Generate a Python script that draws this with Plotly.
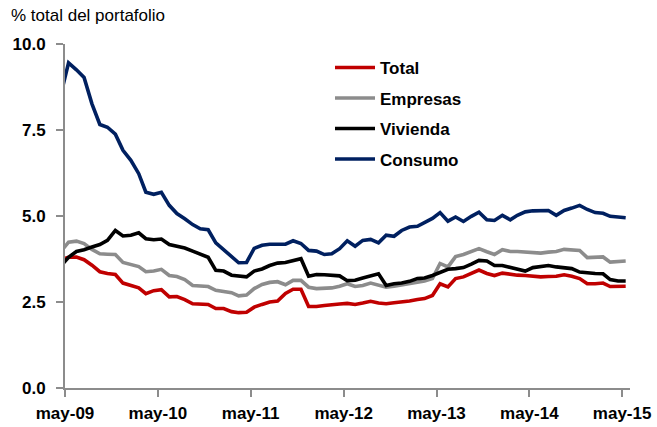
import pandas as pd
import plotly.graph_objects as go

# Monthly observations (mid-month), Apr-2009 .. May-2015
dates = pd.date_range("2009-04-01", periods=74, freq="MS") + pd.Timedelta(days=14)

total = [3.73, 3.80, 3.81, 3.73, 3.57, 3.38, 3.33, 3.30, 3.05, 2.97, 2.91,
         2.74, 2.83, 2.86, 2.65, 2.66, 2.57, 2.45, 2.43, 2.43, 2.31, 2.31,
         2.22, 2.19, 2.20, 2.35, 2.43, 2.50, 2.53, 2.75, 2.87, 2.87, 2.37,
         2.37, 2.40, 2.43, 2.44, 2.46, 2.43, 2.47, 2.52, 2.47, 2.45, 2.48,
         2.50, 2.53, 2.57, 2.60, 2.69, 3.03, 2.94, 3.18, 3.23, 3.34, 3.43,
         3.33, 3.27, 3.34, 3.30, 3.28, 3.27, 3.25, 3.23, 3.24, 3.25, 3.29,
         3.25, 3.18, 3.03, 3.03, 3.05, 2.95, 2.96, 2.96]

empresas = [3.97, 4.24, 4.27, 4.20, 4.03, 3.90, 3.89, 3.88, 3.65, 3.60, 3.53,
            3.38, 3.40, 3.45, 3.27, 3.24, 3.15, 2.98, 2.96, 2.95, 2.84, 2.80,
            2.77, 2.68, 2.70, 2.89, 3.01, 3.07, 3.09, 3.00, 3.13, 3.13, 2.93,
            2.89, 2.89, 2.91, 2.96, 3.03, 2.95, 2.98, 3.05, 2.98, 2.93, 2.96,
            3.00, 3.03, 3.07, 3.11, 3.18, 3.62, 3.52, 3.82, 3.88, 3.97, 4.05,
            3.96, 3.88, 4.02, 3.97, 3.97, 3.95, 3.93, 3.92, 3.95, 3.97, 4.03,
            4.02, 4.00, 3.79, 3.79, 3.81, 3.66, 3.68, 3.69]

vivienda = [3.55, 3.80, 3.97, 4.02, 4.10, 4.17, 4.29, 4.58, 4.42, 4.44, 4.51,
            4.34, 4.31, 4.33, 4.17, 4.11, 4.07, 3.98, 3.90, 3.80, 3.42, 3.40,
            3.28, 3.25, 3.23, 3.40, 3.46, 3.56, 3.63, 3.65, 3.70, 3.76, 3.25,
            3.30, 3.29, 3.28, 3.26, 3.12, 3.13, 3.20, 3.27, 3.32, 2.98, 3.03,
            3.05, 3.10, 3.18, 3.20, 3.27, 3.37, 3.45, 3.47, 3.50, 3.60, 3.71,
            3.69, 3.56, 3.56, 3.50, 3.45, 3.40, 3.50, 3.52, 3.56, 3.52, 3.50,
            3.47, 3.37, 3.34, 3.33, 3.32, 3.15, 3.11, 3.11]

consumo = [8.55, 9.45, 9.25, 9.03, 8.26, 7.66, 7.58, 7.38, 6.91, 6.62, 6.23,
           5.69, 5.63, 5.69, 5.31, 5.07, 4.92, 4.75, 4.63, 4.60, 4.22, 4.03,
           3.84, 3.64, 3.65, 4.06, 4.15, 4.18, 4.18, 4.18, 4.28, 4.20, 4.00,
           3.98, 3.88, 3.90, 4.05, 4.28, 4.12, 4.29, 4.32, 4.22, 4.44, 4.41,
           4.58, 4.68, 4.70, 4.82, 4.93, 5.10, 4.85, 4.97, 4.84, 4.99, 5.11,
           4.89, 4.87, 5.02, 4.89, 5.02, 5.12, 5.15, 5.16, 5.16, 5.02, 5.16,
           5.23, 5.31, 5.19, 5.10, 5.08, 4.99, 4.97, 4.95]

series_names = ["Total", "Empresas", "Vivienda", "Consumo"]
series_colors = ["#C00000", "#8C8C8C", "#000000", "#002060"]
series_values = [total, empresas, vivienda, consumo]

tick_dates = ["2009-05-01", "2010-05-01", "2011-05-01", "2012-05-01",
              "2013-05-01", "2014-05-01", "2015-05-01"]
tick_labels = ["may-09", "may-10", "may-11", "may-12", "may-13", "may-14", "may-15"]

FONT = "Arial, Liberation Sans, sans-serif"

fig = go.Figure()
for name, color, vals in zip(series_names, series_colors, series_values):
    fig.add_trace(go.Scatter(
        x=dates, y=vals, name=name, mode="lines",
        line=dict(color=color, width=3.6),
        legendgroup=name,
    ))

W, H = 657, 427
L, R, T, B = 65, 27, 43.5, 427 - 387.7
PW, PH = W - L - R, H - T - B

fig.update_layout(
    template="none",
    width=W, height=H,
    margin=dict(l=L, r=R, t=T, b=B, pad=0),
    paper_bgcolor="white", plot_bgcolor="white",
    font=dict(family=FONT, size=17, color="black"),
    showlegend=True,
    legend=dict(
        x=(330 - L) / PW, y=1 - 6 / PH,
        xanchor="left", yanchor="top",
        bgcolor="rgba(0,0,0,0)", borderwidth=0,
        font=dict(family=FONT, size=17, color="black", weight="bold"),
        itemwidth=40, tracegroupgap=5.4,
    ),
    xaxis=dict(
        type="date", automargin=False,
        range=["2009-05-01", "2015-06-01"],
        showgrid=False, zeroline=False,
        showline=True, linecolor="#8C8C8C", linewidth=2,
        ticks="outside", ticklen=7, tickwidth=2, tickcolor="#8C8C8C",
        tickvals=tick_dates, ticktext=tick_labels,
        tickfont=dict(family=FONT, size=17, color="black", weight="bold"),
        ticklabelstandoff=2,
    ),
    yaxis=dict(
        automargin=False,
        range=[0, 10], tick0=0, dtick=2.5, tickformat=".1f",
        showgrid=False, zeroline=False,
        showline=True, linecolor="#8C8C8C", linewidth=2,
        ticks="outside", ticklen=7, tickwidth=2, tickcolor="#8C8C8C",
        tickfont=dict(family=FONT, size=17, color="black", weight="bold"),
        ticklabelstandoff=7,
    ),
    annotations=[dict(
        text="% total del portafolio", showarrow=False,
        xref="paper", yref="paper",
        x=(9 - L) / PW, y=(H - B - 15) / PH,
        xanchor="left", yanchor="middle",
        font=dict(family=FONT, size=17, color="black"),
    )],
)

fig.write_html(
    "out.html",
    config={"displayModeBar": False},
    post_script="document.body.style.margin='0px';",
)
